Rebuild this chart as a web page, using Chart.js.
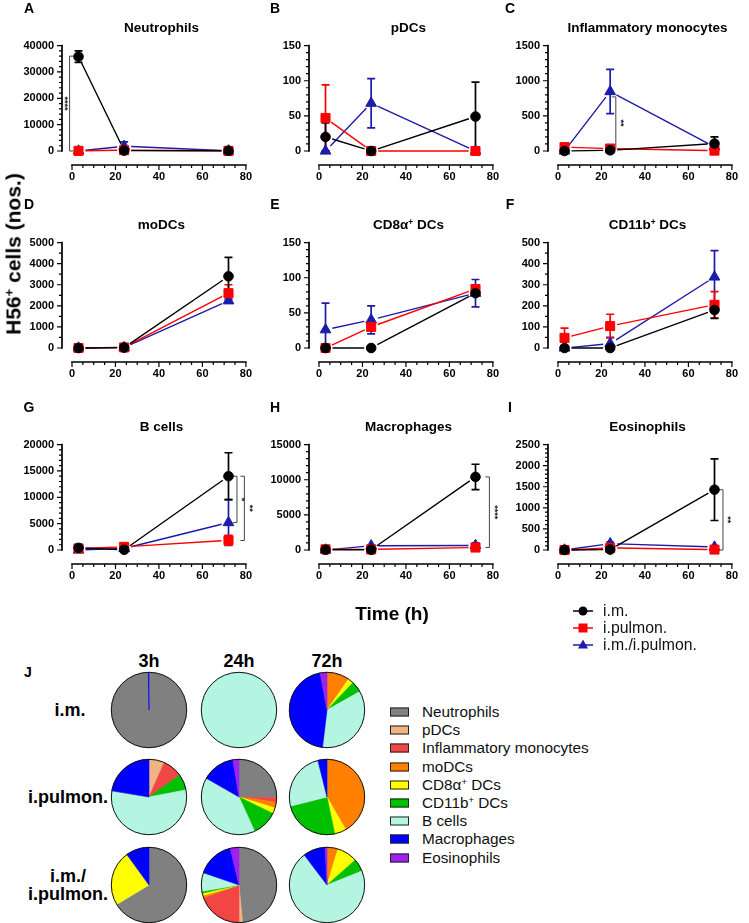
<!DOCTYPE html>
<html>
<head>
<meta charset="utf-8">
<script src="https://cdn.jsdelivr.net/npm/chart.js@4.4.0/dist/chart.umd.min.js"></script>
<style>
  body { margin: 0; background: #fff; width: 749px; height: 923px; position: relative; overflow: hidden;
         font-family: "Liberation Sans", Arial, sans-serif; color: #000; }
  canvas { position: absolute; }
  .lbl { position: absolute; font-weight: bold; white-space: nowrap; transform: translate(-50%, -50%); line-height: 1; }
  .lbl sup, .leg sup { font-size: 0.62em; vertical-align: 0.55em; line-height: 0; }
  .leg { position: absolute; white-space: nowrap; transform: translate(0, -50%); font-size: 16px; line-height: 1; color: #111; }
  .box { position: absolute; width: 17px; height: 7px; border: 1px solid #222; transform: translate(0, -50%); }
</style>
</head>
<body>
<script>
// ---- data ----
const times = [3, 24, 72]
const groups = ['i.m.', 'i.pulmon.', 'i.m./i.pulmon.']
const panelTitles = ['Neutrophils', 'pDCs', 'Inflammatory monocytes', 'moDCs', 'CD8α<sup>+</sup> DCs',
  'CD11b<sup>+</sup> DCs', 'B cells', 'Macrophages', 'Eosinophils']
const panelLetters = ['A', 'B', 'C', 'D', 'E', 'F', 'G', 'H', 'I']
const yMax = [40000, 150, 1500, 5000, 150, 500, 20000, 15000, 2500]
const yStep = [10000, 50, 500, 1000, 50, 100, 5000, 5000, 500]
const yMinor = [2000, 10, 100, 500, 10, 50, 1000, 1000, 100]
const xTicks = [0, 20, 40, 60, 80]

// mean / error per panel, values at 3h, 24h, 72h
const imMean = [[35800, 150, 100], [20, 0, 49], [0, 10, 105], [0, 20, 3400], [0, 0, 78],
  [0, 0, 180], [400, 50, 14000], [30, 30, 10400], [0, 10, 1430]]
const imErr = [[2200, 100, 50], [20, 0, 49], [0, 5, 95], [0, 10, 900], [0, 0, 3],
  [0, 0, 40], [150, 30, 4450], [20, 20, 1800], [0, 5, 730]]
const pulMean = [[50, 300, 50], [47, 0, 0], [55, 35, 5], [0, 25, 2600], [0, 30, 84],
  [48, 104, 205], [300, 600, 1850], [100, 80, 350], [0, 50, 10]]
const pulErr = [[30, 150, 30], [47, 0, 0], [20, 15, 5], [0, 10, 400], [0, 5.5, 6],
  [46, 56, 62], [100, 200, 950], [50, 50, 150], [0, 20, 10]]
const combMean = [[0, 1800, 50], [0, 68, 0], [0, 846, 60], [0, 20, 2240], [26, 40, 78],
  [0, 21, 337], [0, 300, 5200], [0, 600, 650], [0, 150, 70]]
const combErr = [[0, 1700, 30], [0, 35, 0], [0, 315, 20], [0, 10, 80], [38, 20, 19.5],
  [8, 30, 125], [0, 150, 4350], [0, 150, 350], [0, 40, 25]]

// significance brackets: panel, x, y from, y to, tips direction, text
const statMarks = [
  { panel: 0, x: -1.1, y1: 36000, y2: 0, dir: 1, text: '****' },
  { panel: 2, x: 26.6, y1: 770, y2: 25, dir: -1, text: '**' },
  { panel: 6, x: 75.9, y1: 14000, y2: 5200, dir: -1, text: '*' },
  { panel: 6, x: 79.3, y1: 14000, y2: 1800, dir: -1, text: '**' },
  { panel: 7, x: 78.4, y1: 10400, y2: 350, dir: -1, text: '****' },
  { panel: 8, x: 75.9, y1: 1430, y2: 0, dir: -1, text: '**' }
]

// pie data, % of H56+ cells, order = panelTitles
const pieTimes = ['3h', '24h', '72h']
const pieRows = ['i.m.', 'i.pulmon.', 'i.m./<br>i.pulmon.']
const pieIM = [[99.7, 0, 0, 0, 0, 0, 0, 0.3, 0], [0, 0, 0, 0, 0, 0, 100, 0, 0],
  [0, 0, 0, 9.7, 2.4, 4.7, 35.1, 45.2, 2.9]]
const piePulmon = [[0, 6.6, 8.5, 0, 0, 6.9, 55.6, 22.4, 0], [25.3, 0, 1.9, 2.5, 2.5, 11, 40.1, 14.1, 2.6],
  [0, 0, 0, 41.7, 5, 24.4, 25, 3.9, 0]]
const pieComb = [[66.4, 0, 0, 0, 23.6, 0, 0, 10, 0], [48.5, 1.5, 19.5, 1, 1, 0.8, 8, 16, 3.7],
  [0, 0, 0, 4.7, 8.8, 5.4, 70.7, 9.5, 0.8]]

// ---- styles ----
const cellColors = ['#808080', '#f0b482', '#f24646', '#ff8000', '#ffff00', '#00c000', '#b4f5e1', '#0000ff', '#a020f0']
const seriesColors = ['#000000', '#ff0000', '#1c1ca8']
const seriesMarkers = ['circle', 'rect', 'triangle']
const markerRadius = [4.8, 6.4, 6.2]
const colLeft = [72, 319, 558]
const rowTop = [31, 228, 430]
const plotW = 187, plotH = 120

Chart.defaults.font.family = '"Liberation Sans", Arial, sans-serif'
Chart.defaults.color = '#000'
Chart.defaults.animation = false

function addText (html, x, y, size, cls = 'lbl', extra = '') {
  const d = document.createElement('div')
  d.className = cls
  d.innerHTML = html
  d.style.cssText += `left:${x}px;top:${y}px;font-size:${size}px;${extra}`
  document.body.appendChild(d)
  return d
}

// prism-like axes, error bars, gapped lines, brackets
function prismPlugin (p) {
  return {
    id: 'prism' + p,
    beforeDatasetsDraw (chart) {
      const { ctx, scales: { x, y } } = chart
      const x0 = x.getPixelForValue(0), x1 = x.getPixelForValue(80)
      const y0 = y.getPixelForValue(0), y1 = y.getPixelForValue(yMax[p])
      const ax = x0 - 10, ay = y0 + 14
      ctx.save()
      ctx.strokeStyle = '#000'
      ctx.lineWidth = 1.7
      ctx.beginPath()
      ctx.moveTo(ax, y0 + 0.8); ctx.lineTo(ax, y1 - 0.8)
      ctx.moveTo(x0 - 0.8, ay); ctx.lineTo(x1 + 0.8, ay)
      ctx.stroke()
      ctx.lineWidth = 1.2
      ctx.beginPath()
      for (let v = 0; v <= yMax[p] + 1e-6; v += yMinor[p]) {
        const py = y.getPixelForValue(v)
        const len = Math.abs(v / yStep[p] - Math.round(v / yStep[p])) < 1e-6 ? 5 : 3
        ctx.moveTo(ax - len, py); ctx.lineTo(ax, py)
      }
      for (let v = 0; v <= 80; v += 5) {
        const px = x.getPixelForValue(v)
        const len = v % 20 === 0 ? 5 : 3
        ctx.moveTo(px, ay); ctx.lineTo(px, ay + len)
      }
      ctx.stroke()

      // brackets
      statMarks.filter(m => m.panel === p).forEach(m => {
        const px = x.getPixelForValue(m.x)
        const pa = y.getPixelForValue(m.y1), pb = y.getPixelForValue(m.y2)
        ctx.strokeStyle = '#444'
        ctx.lineWidth = 1
        ctx.beginPath()
        ctx.moveTo(px + m.dir * 4, pa); ctx.lineTo(px, pa); ctx.lineTo(px, pb); ctx.lineTo(px + m.dir * 4, pb)
        ctx.stroke()
        ctx.save()
        ctx.translate(px - m.dir * 5, (pa + pb) / 2)
        ctx.rotate(Math.PI / 2)
        ctx.fillStyle = '#222'
        ctx.font = 'bold 9px "Liberation Sans", Arial'
        ctx.textAlign = 'center'
        ctx.textBaseline = 'middle'
        ctx.fillText(m.text, 0, 0)
        ctx.restore()
      })

      // lines and error bars, last series first so black ends on top
      for (let s = chart.data.datasets.length - 1; s >= 0; s--) {
        const ds = chart.data.datasets[s]
        const pts = chart.getDatasetMeta(s).data
        ctx.strokeStyle = ds.borderColor
        ctx.lineWidth = 1.4
        ctx.beginPath()
        for (let i = 0; i < pts.length - 1; i++) {
          const a = pts[i], b = pts[i + 1]
          const dx = b.x - a.x, dy = b.y - a.y, d = Math.hypot(dx, dy), g = 7
          if (d <= 2 * g) continue
          ctx.moveTo(a.x + dx * g / d, a.y + dy * g / d)
          ctx.lineTo(b.x - dx * g / d, b.y - dy * g / d)
        }
        ctx.stroke()
        ctx.lineWidth = 1.7
        ctx.beginPath()
        ds.err.forEach((e, i) => {
          if (!e) return
          const v = ds.data[i].y
          const px = pts[i].x
          const top = y.getPixelForValue(v + e), bot = y.getPixelForValue(Math.max(0, v - e))
          ctx.moveTo(px, top); ctx.lineTo(px, bot)
          ctx.moveTo(px - 4, top); ctx.lineTo(px + 4, top)
          ctx.moveTo(px - 4, bot); ctx.lineTo(px + 4, bot)
        })
        ctx.stroke()
      }
      ctx.restore()
    }
  }
}

const meanSets = [imMean, pulMean, combMean]
const errSets = [imErr, pulErr, combErr]
const tickFont = { size: 11, weight: 'bold' }

panelTitles.forEach((title, p) => {
  const col = p % 3, row = Math.floor(p / 3)
  const L = colLeft[col], T = rowTop[row]
  const cv = document.createElement('canvas')
  cv.width = plotW + 74
  cv.height = plotH + 50
  cv.style.left = (L - 62) + 'px'
  cv.style.top = (T - 10) + 'px'
  document.body.appendChild(cv)

  new Chart(cv, {
    type: 'scatter',
    data: {
      datasets: groups.map((g, s) => ({
        label: g,
        data: times.map((t, i) => ({ x: t, y: meanSets[s][p][i] })),
        err: errSets[s][p],
        showLine: false,
        pointStyle: seriesMarkers[s],
        pointRadius: markerRadius[s],
        pointHoverRadius: markerRadius[s],
        pointBackgroundColor: seriesColors[s],
        pointBorderColor: seriesColors[s],
        pointBorderWidth: 1,
        borderColor: seriesColors[s],
        clip: false
      }))
    },
    options: {
      responsive: false,
      events: [],
      layout: { padding: { left: 2, top: 10, right: 12, bottom: 0 } },
      plugins: { legend: { display: false }, tooltip: { enabled: false } },
      scales: {
        x: {
          type: 'linear', min: 0, max: 80,
          grid: { display: false, drawTicks: false }, border: { display: false },
          afterBuildTicks: s => { s.ticks = xTicks.map(v => ({ value: v })) },
          ticks: { padding: 19, autoSkip: false, maxRotation: 0, font: tickFont, color: '#000' },
          afterFit: s => { s.height = 40 }
        },
        y: {
          min: 0, max: yMax[p],
          grid: { display: false, drawTicks: false }, border: { display: false },
          ticks: { stepSize: yStep[p], padding: 18, autoSkip: false, font: tickFont, color: '#000', callback: v => String(v) },
          afterFit: s => { s.width = 60 }
        }
      }
    },
    plugins: [prismPlugin(p)]
  })

  addText(title, L + plotW / 2 - 4, T - 3, 13.5)
  addText(panelLetters[p], [29, 275, 510][col], [8, 204, 407][row], 14)
})

// axis titles
addText('H56<sup>+</sup> cells (nos.)', 13, 254, 21, 'lbl', 'transform:translate(-50%,-50%) rotate(-90deg);')
addText('Time (h)', 392, 613, 19)

// series legend
const lg = document.createElement('canvas')
lg.width = 40; lg.height = 60
lg.style.left = '565px'; lg.style.top = '600px'
document.body.appendChild(lg)
const lctx = lg.getContext('2d')
groups.forEach((g, s) => {
  const cy = 11 + s * 17
  lctx.strokeStyle = seriesColors[s]
  lctx.fillStyle = seriesColors[s]
  lctx.lineWidth = 1.5
  lctx.beginPath(); lctx.moveTo(8, cy); lctx.lineTo(28, cy); lctx.stroke()
  lctx.beginPath()
  if (seriesMarkers[s] === 'circle') lctx.arc(18, cy, 4.5, 0, Math.PI * 2)
  else if (seriesMarkers[s] === 'rect') lctx.rect(13.5, cy - 4.5, 9, 9)
  else { lctx.moveTo(18, cy - 5.5); lctx.lineTo(23, cy + 3.5); lctx.lineTo(13, cy + 3.5); lctx.closePath() }
  lctx.fill()
  addText(g, 603, 611 + s * 17, 15.8, 'leg')
})

// ---- pies ----
addText('J', 28, 672, 14)
const pieCols = [149, 239, 327]
const pieRowY = [710, 797, 885]
pieTimes.forEach((t, c) => addText(t, pieCols[c], 661, 18))
addText(pieRows[0], 70, pieRowY[0], 18)
addText(pieRows[1], 68, pieRowY[1], 18)
addText(pieRows[2], 68, pieRowY[2], 18, 'lbl', 'text-align:center;line-height:18px;')

const outline = {
  id: 'outline',
  afterDatasetsDraw (chart) {
    const arc = chart.getDatasetMeta(0).data[0]
    if (!arc) return
    const ctx = chart.ctx
    ctx.save()
    ctx.beginPath()
    ctx.arc(arc.x, arc.y, arc.outerRadius, 0, Math.PI * 2)
    ctx.lineWidth = 1
    ctx.strokeStyle = '#111'
    ctx.stroke()
    ctx.restore()
  }
}

const pieSets = [pieIM, piePulmon, pieComb]
pieSets.forEach((set, r) => {
  set.forEach((vals, c) => {
    const cv = document.createElement('canvas')
    cv.width = 78; cv.height = 78
    cv.style.left = (pieCols[c] - 39) + 'px'
    cv.style.top = (pieRowY[r] - 39) + 'px'
    document.body.appendChild(cv)
    new Chart(cv, {
      type: 'pie',
      data: {
        labels: panelTitles,
        datasets: [{
          data: vals,
          backgroundColor: cellColors,
          borderColor: cellColors,
          borderWidth: ctx => (ctx.raw > 0 ? 0.6 : 0)
        }]
      },
      options: {
        responsive: false,
        events: [],
        layout: { padding: 1 },
        plugins: { legend: { display: false }, tooltip: { enabled: false } }
      },
      plugins: [outline]
    })
  })
})

// pie legend
panelTitles.forEach((t, i) => {
  const cy = 712 + i * 18.2
  const b = document.createElement('div')
  b.className = 'box'
  b.style.left = '390px'
  b.style.top = cy + 'px'
  b.style.background = cellColors[i]
  document.body.appendChild(b)
  addText(t, 422, cy, 15.3, 'leg')
})
</script>
</body>
</html>
